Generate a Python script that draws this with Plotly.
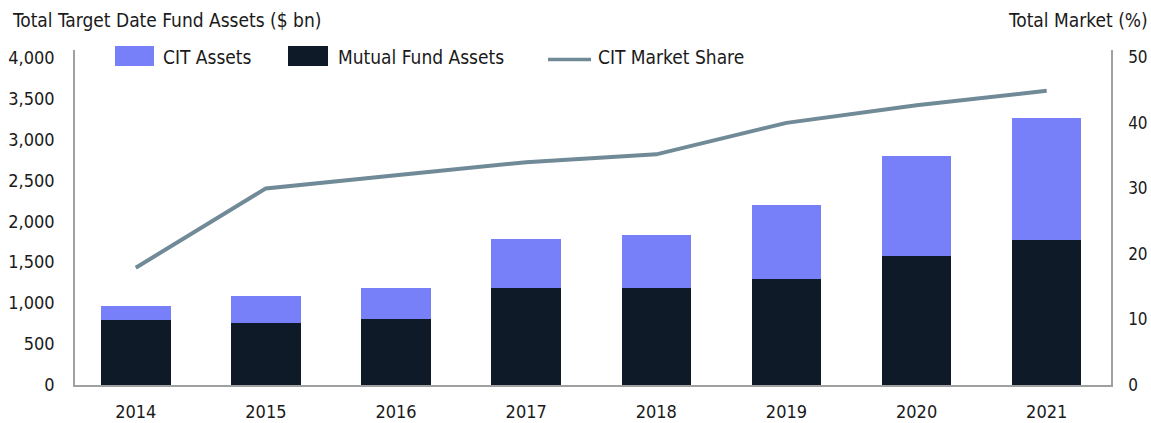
import plotly.graph_objects as go

years = ["2014", "2015", "2016", "2017", "2018", "2019", "2020", "2021"]
mutual_fund_assets = [790, 758, 811, 1180, 1180, 1300, 1576, 1772]
cit_assets = [176, 331, 373, 604, 652, 902, 1218, 1488]
cit_market_share = [17.9, 30.0, 32.0, 34.0, 35.2, 40.0, 42.7, 44.9]

left_ticks = [0, 500, 1000, 1500, 2000, 2500, 3000, 3500, 4000]
right_ticks = [0, 10, 20, 30, 40, 50]

FONT = "DejaVu Sans Condensed, Liberation Sans Narrow, sans-serif"
C_CIT = "#7780f9"
C_MF = "#0f1a28"
C_LINE = "#708a98"
C_AXIS = "#a0a0a0"
C_TEXT = "#1a1a1a"

W, H = 1151, 423
L, R, T, B = 75, 1111, 50, 385

fig = go.Figure()
fig.add_trace(go.Bar(x=years, y=mutual_fund_assets, name="Mutual Fund Assets",
                     marker=dict(color=C_MF, line=dict(width=0))))
fig.add_trace(go.Bar(x=years, y=cit_assets, name="CIT Assets",
                     marker=dict(color=C_CIT, line=dict(width=0))))
fig.add_trace(go.Scatter(x=years, y=cit_market_share, name="CIT Market Share",
                         yaxis="y2", mode="lines",
                         line=dict(color=C_LINE, width=4)))

def px(x):
    return (x - L) / (R - L)

def py(y):
    return (B - y) / (B - T)

shapes = []
annotations = []
# custom legend
legend_items = [
    ("rect", C_CIT, 115, 154, "CIT Assets", 161),
    ("rect", C_MF, 288, 328, "Mutual Fund Assets", 336),
    ("line", C_LINE, 548, 591, "CIT Market Share", 596),
]
for kind, col, x0, x1, label, tx in legend_items:
    if kind == "rect":
        shapes.append(dict(type="rect", xref="paper", yref="paper",
                           x0=px(x0), x1=px(x1), y0=py(66), y1=py(46),
                           fillcolor=col, line=dict(width=0)))
    else:
        shapes.append(dict(type="line", xref="paper", yref="paper",
                           x0=px(x0), x1=px(x1), y0=py(59.5), y1=py(59.5),
                           line=dict(color=col, width=3.5)))
    annotations.append(dict(text=label, xref="paper", yref="paper",
                            x=px(tx), y=py(57), xanchor="left", yanchor="middle",
                            showarrow=False, font=dict(size=19, color=C_TEXT, family=FONT)))

annotations.append(dict(text="Total Target Date Fund Assets ($ bn)", xref="paper", yref="paper",
                        x=px(10), y=py(20), xanchor="left", yanchor="middle", showarrow=False,
                        font=dict(size=19, color=C_TEXT, family=FONT)))
annotations.append(dict(text="Total Market (%)", xref="paper", yref="paper",
                        x=px(1150), y=py(20), xanchor="right", yanchor="middle", showarrow=False,
                        font=dict(size=19, color=C_TEXT, family=FONT)))

fig.update_layout(
    width=W, height=H,
    margin=dict(l=L, r=W - R, t=T, b=H - B, pad=0, autoexpand=False),
    barmode="stack", bargap=0.466,
    plot_bgcolor="white", paper_bgcolor="white",
    showlegend=False,
    font=dict(family=FONT, size=18, color=C_TEXT),
    xaxis=dict(range=[-0.467, 7.494], showgrid=False, showline=True, linecolor=C_AXIS,
               linewidth=1.5, automargin=False,
               ticks="", tickfont=dict(size=18), ticklabelstandoff=10),
    yaxis=dict(range=[0, 4090], tickvals=left_ticks, automargin=False,
               ticktext=[f"{v:,}" for v in left_ticks],
               showgrid=False, zeroline=False, showline=True, linecolor=C_AXIS, linewidth=1.5,
               ticks="", ticklabelstandoff=15, tickfont=dict(size=18)),
    yaxis2=dict(range=[0, 51.12], tickvals=right_ticks, overlaying="y", side="right",
                automargin=False,
                showgrid=False, zeroline=False, showline=True, linecolor=C_AXIS, linewidth=1.5,
                ticks="", ticklabelstandoff=12, tickfont=dict(size=17)),
    shapes=shapes, annotations=annotations,
)

fig.write_html("out.html", config={"displayModeBar": False},
               post_script="document.body.style.margin='0';document.body.style.overflow='hidden';")
